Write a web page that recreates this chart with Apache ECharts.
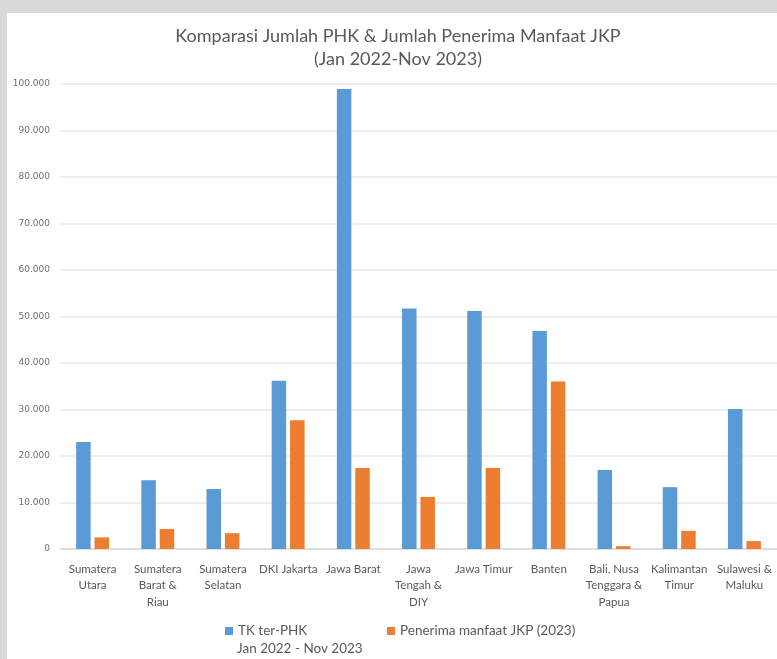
<!DOCTYPE html>
<html>
<head>
<meta charset="utf-8">
<script src="https://cdn.jsdelivr.net/npm/echarts@6/dist/echarts.min.js"></script>
<style>
  html, body { margin: 0; padding: 0; background: #d9d9d9; overflow: hidden; width: 777px; height: 659px; }
  #panel { position: absolute; left: 7px; top: 13px; width: 770px; height: 646px; background: #ffffff; }
</style>
</head>
<body>
<div id="panel"></div>
<script>
const categories = [
  "Sumatera\nUtara", "Sumatera\nBarat &\nRiau", "Sumatera\nSelatan", "DKI Jakarta",
  "Jawa Barat", "Jawa\nTengah &\nDIY", "Jawa Timur", "Banten",
  "Bali, Nusa\nTenggara &\nPapua", "Kalimantan\nTimur", "Sulawesi &\nMaluku"
];
const tkPhk = [23000, 14800, 12900, 36200, 98900, 51700, 51200, 46900, 17000, 13300, 30100];
const penerimaJkp = [2500, 4300, 3400, 27700, 17400, 11200, 17400, 36000, 600, 3900, 1700];
const seriesNames = ["TK ter-PHK", "Penerima manfaat JKP (2023)"];
const seriesSubtitle = "Jan 2022 - Nov 2023";
const titleText = "Komparasi Jumlah PHK & Jumlah Penerima Manfaat JKP\n(Jan 2022-Nov 2023)";

const FONT = "Lato, 'Open Sans', sans-serif";
const TXT = "#595959";
const chart = echarts.init(document.getElementById('panel'));
chart.setOption({
  animation: false,
  textStyle: { fontFamily: FONT },
  title: {
    text: titleText,
    left: 386, top: 7, textAlign: 'center',
    textStyle: { fontFamily: FONT, fontSize: 18, fontWeight: 'normal', color: TXT, lineHeight: 23 }
  },
  legend: [
    {
      left: 213, top: 606, itemWidth: 8, itemHeight: 8, icon: 'rect',
      textStyle: { fontFamily: FONT, fontSize: 13.5, color: TXT },
      data: [seriesNames[0]]
    },
    {
      left: 375, top: 606, itemWidth: 8, itemHeight: 8, icon: 'rect',
      textStyle: { fontFamily: FONT, fontSize: 13.5, color: TXT },
      data: [seriesNames[1]]
    }
  ],
  graphic: [{
    type: 'text', left: 230, top: 629,
    style: { text: seriesSubtitle, fontFamily: FONT, fontSize: 13.5, fill: TXT }
  }],
  grid: { left: 53, right: -2, top: 71, bottom: 110, containLabel: false },
  xAxis: {
    type: 'category',
    data: categories,
    axisTick: { show: false },
    axisLine: { lineStyle: { color: '#d9d9d9', width: 1.5 } },
    axisLabel: { interval: 0, color: TXT, fontSize: 11.5, lineHeight: 16.5, margin: 12, fontFamily: FONT }
  },
  yAxis: {
    type: 'value', min: 0, max: 100000, interval: 10000,
    axisLine: { show: false }, axisTick: { show: false },
    splitLine: { lineStyle: { color: '#e8e8e8', width: 1.5 } },
    axisLabel: {
      color: '#6f6f6f', fontSize: 9, margin: 10, fontFamily: "'DejaVu Sans', sans-serif",
      formatter: v => v === 0 ? '0' : String(v).replace(/\B(?=(\d{3})+(?!\d))/g, '.')
    }
  },
  series: [
    { name: seriesNames[0], type: 'bar', data: tkPhk, barWidth: 14.5, barGap: '27%', itemStyle: { color: '#5b9bd5' } },
    { name: seriesNames[1], type: 'bar', data: penerimaJkp, barWidth: 14.5, barGap: '27%', itemStyle: { color: '#ed7d31' } }
  ]
});
</script>
</body>
</html>
